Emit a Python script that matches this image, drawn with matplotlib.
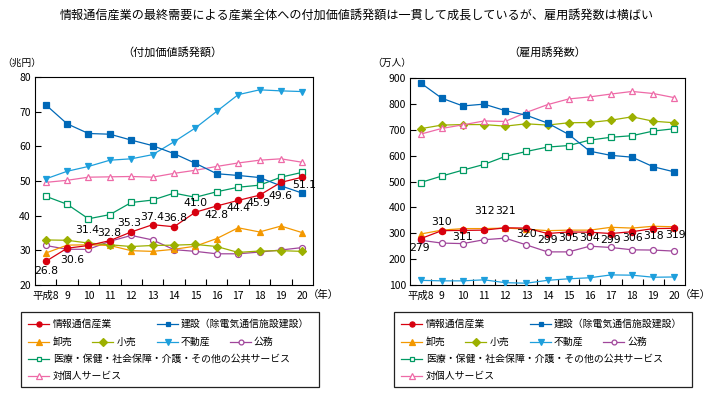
import matplotlib
matplotlib.use('Agg')
import matplotlib.pyplot as plt
from matplotlib.lines import Line2D
from matplotlib.patches import Rectangle

plt.rcParams['font.family'] = ['Noto Sans CJK JP', 'DejaVu Sans']

years = ['平成8', '9', '10', '11', '12', '13', '14', '15', '16', '17', '18', '19', '20']
x = list(range(len(years)))

# 付加価値誘発額（兆円）
va_info = [26.8, 30.6, 31.4, 32.8, 35.3, 37.4, 36.8, 41.0, 42.8, 44.4, 45.9, 49.6, 51.1]
va_const = [72.0, 66.5, 63.7, 63.5, 61.8, 60.2, 57.9, 55.1, 52.1, 51.6, 51.0, 48.6, 46.5]
va_whole = [29.2, 31.5, 31.6, 31.4, 29.9, 29.7, 30.3, 31.2, 33.4, 36.5, 35.3, 37.0, 35.1]
va_retail = [33.0, 32.9, 32.1, 31.6, 31.1, 31.4, 31.5, 31.7, 31.1, 29.4, 29.8, 29.9, 29.7]
va_estate = [50.6, 52.8, 54.2, 56.0, 56.4, 57.6, 61.3, 65.3, 70.1, 74.9, 76.3, 76.0, 75.8]
va_public = [31.4, 30.3, 30.3, 32.6, 34.3, 33.0, 30.2, 29.7, 29.0, 29.0, 29.5, 30.1, 30.8]
va_medical = [45.6, 43.3, 39.1, 40.3, 43.8, 44.5, 46.5, 45.3, 46.9, 48.2, 48.8, 51.1, 52.5]
va_personal = [49.6, 50.2, 51.1, 51.2, 51.3, 51.1, 52.2, 53.1, 54.2, 55.2, 56.0, 56.4, 55.4]

# 雇用誘発数（万人）
em_info = [279, 310, 311, 312, 321, 320, 299, 305, 304, 299, 306, 318, 319]
em_const = [881, 822, 792, 799, 774, 756, 726, 682, 617, 601, 594, 557, 537]
em_whole = [297, 312, 318, 318, 320, 316, 310, 312, 312, 323, 320, 327, 325]
em_retail = [704, 718, 720, 720, 714, 723, 718, 727, 728, 737, 750, 733, 727]
em_estate = [118, 116, 116, 120, 109, 107, 118, 124, 128, 139, 138, 130, 131]
em_public = [273, 262, 260, 275, 281, 255, 228, 228, 250, 245, 236, 235, 231]
em_medical = [496, 521, 544, 566, 597, 616, 633, 639, 660, 671, 677, 695, 704]
em_personal = [683, 705, 719, 734, 732, 767, 797, 819, 827, 838, 848, 840, 824]

names = ['情報通信産業', '建設（除電気通信施設建設）', '卸売', '小売', '不動産', '公務',
         '医療・保健・社会保障・介護・その他の公共サービス', '対個人サービス']

# (color, marker, filled, size)
styles = {
    '情報通信産業': ('#d7000f', 'o', True, 4.5),
    '建設（除電気通信施設建設）': ('#0068b7', 's', True, 4.3),
    '卸売': ('#f39800', '^', True, 4.5),
    '小売': ('#9cb000', 'D', True, 4.5),
    '不動産': ('#1e9fdc', 'v', True, 4.5),
    '公務': ('#a0469b', 'o', False, 4.3),
    '医療・保健・社会保障・介護・その他の公共サービス': ('#009a63', 's', False, 4.0),
    '対個人サービス': ('#ee6aa7', '^', False, 4.5),
}

left_data = dict(zip(names, [va_info, va_const, va_whole, va_retail, va_estate,
                             va_public, va_medical, va_personal]))
right_data = dict(zip(names, [em_info, em_const, em_whole, em_retail, em_estate,
                              em_public, em_medical, em_personal]))

draw_order = ['公務', '卸売', '小売', '対個人サービス',
              '医療・保健・社会保障・介護・その他の公共サービス',
              '不動産', '建設（除電気通信施設建設）', '情報通信産業']

left_offsets = [(0, -10), (5, -12), (-1, 15), (-1, 8), (-2, 9), (0, 8), (1, 9),
                (0, 9), (0, -9), (0, -8), (-1, -8), (0, -14), (2, -8)]
right_offsets = [(-1, -9), (0, 9), (0, -7), (0, 19), (0, 17), (0, -6), (0, -6),
                 (0, -6), (0, -6), (0, -6), (0, -6), (0, -7), (1, -7)]

fig = plt.figure(figsize=(7.13, 3.98), dpi=100)
W, H = 713, 398


def px_axes(x0, y0, x1, y1):
    return fig.add_axes([x0 / W, 1 - y1 / H, (x1 - x0) / W, (y1 - y0) / H])


def draw_panel(ax, data, ylim, yticks, labels, offsets, fmt):
    for name in draw_order:
        c, m, filled, ms = styles[name]
        ax.plot(x, data[name], color=c, lw=0.9, marker=m, ms=ms,
                mfc=c if filled else 'white', mec=c, mew=0.9, zorder=3)
    for i, (v, off) in enumerate(zip(labels, offsets)):
        ax.annotate(fmt.format(v), (i, v), xytext=off, textcoords='offset pixels',
                    ha='center', va='center', fontsize=7.8, zorder=5,
                    family=['DejaVu Sans'])
    ax.set_xlim(-0.5, len(x) - 0.5)
    ax.set_ylim(*ylim)
    ax.set_yticks(yticks)
    ax.set_xticks(x)
    ax.set_xticklabels(years)
    ax.set_xticks([i + 0.5 for i in x[:-1]], minor=True)
    ax.tick_params(axis='x', which='major', length=0, pad=4, labelsize=7.5)
    ax.tick_params(axis='x', which='minor', direction='in', length=4, width=0.8)
    ax.tick_params(axis='y', direction='in', length=4, width=0.8, pad=3, labelsize=7.5)
    for s in ax.spines.values():
        s.set_linewidth(0.8)
    ax.annotate('（年）', (1, 0), xycoords='axes fraction', xytext=(-5, -5),
                textcoords='offset pixels', ha='left', va='top', fontsize=7.5)


ax1 = px_axes(35, 77, 313, 285)
draw_panel(ax1, left_data, (20, 80), range(20, 81, 10), va_info, left_offsets, '{:.1f}')
ax2 = px_axes(410, 78, 685, 285)
draw_panel(ax2, right_data, (100, 900), range(100, 901, 100), em_info, right_offsets, '{:d}')

fig.text(357 / W, 1 - 15 / H,
         '情報通信産業の最終需要による産業全体への付加価値誘発額は一貫して成長しているが、雇用誘発数は横ばい',
         ha='center', va='center', fontsize=8.7)
fig.text(172 / W, 1 - 52 / H, '（付加価値誘発額）', ha='center', va='center', fontsize=8)
fig.text(547 / W, 1 - 52 / H, '（雇用誘発数）', ha='center', va='center', fontsize=8)
fig.text(2 / W, 1 - 63 / H, '（兆円）', ha='left', va='center', fontsize=7)
fig.text(372 / W, 1 - 63 / H, '（万人）', ha='left', va='center', fontsize=7)

# legends
legend_rows = [
    [('情報通信産業', 28, 53), ('建設（除電気通信施設建設）', 157, 181)],
    [('卸売', 28, 53), ('小売', 92, 117), ('不動産', 157, 181), ('公務', 230, 254)],
    [('医療・保健・社会保障・介護・その他の公共サービス', 28, 53)],
    [('対個人サービス', 28, 53)],
]
row_y = [324, 342, 359, 376]

for dx in (0, 373):
    fig.add_artist(Rectangle(((21 + dx) / W, 1 - 387 / H), 298 / W, 75 / H,
                             transform=fig.transFigure, fill=False, lw=0.9, ec='#222222'))
    for row, yy in zip(legend_rows, row_y):
        for name, lx, tx in row:
            c, m, filled, ms = styles[name]
            fy = 1 - yy / H
            fig.add_artist(Line2D([(lx + dx) / W, (lx + dx + 21) / W], [fy, fy],
                                  transform=fig.transFigure, color=c, lw=0.9))
            fig.add_artist(Line2D([(lx + dx + 10.5) / W], [fy], transform=fig.transFigure,
                                  color=c, marker=m, ms=ms - 0.8, mfc=c if filled else 'white',
                                  mec=c, mew=0.9))
            fig.text((tx + dx) / W, fy, name, ha='left', va='center', fontsize=7.1)

fig.savefig('out.png', dpi=100)
